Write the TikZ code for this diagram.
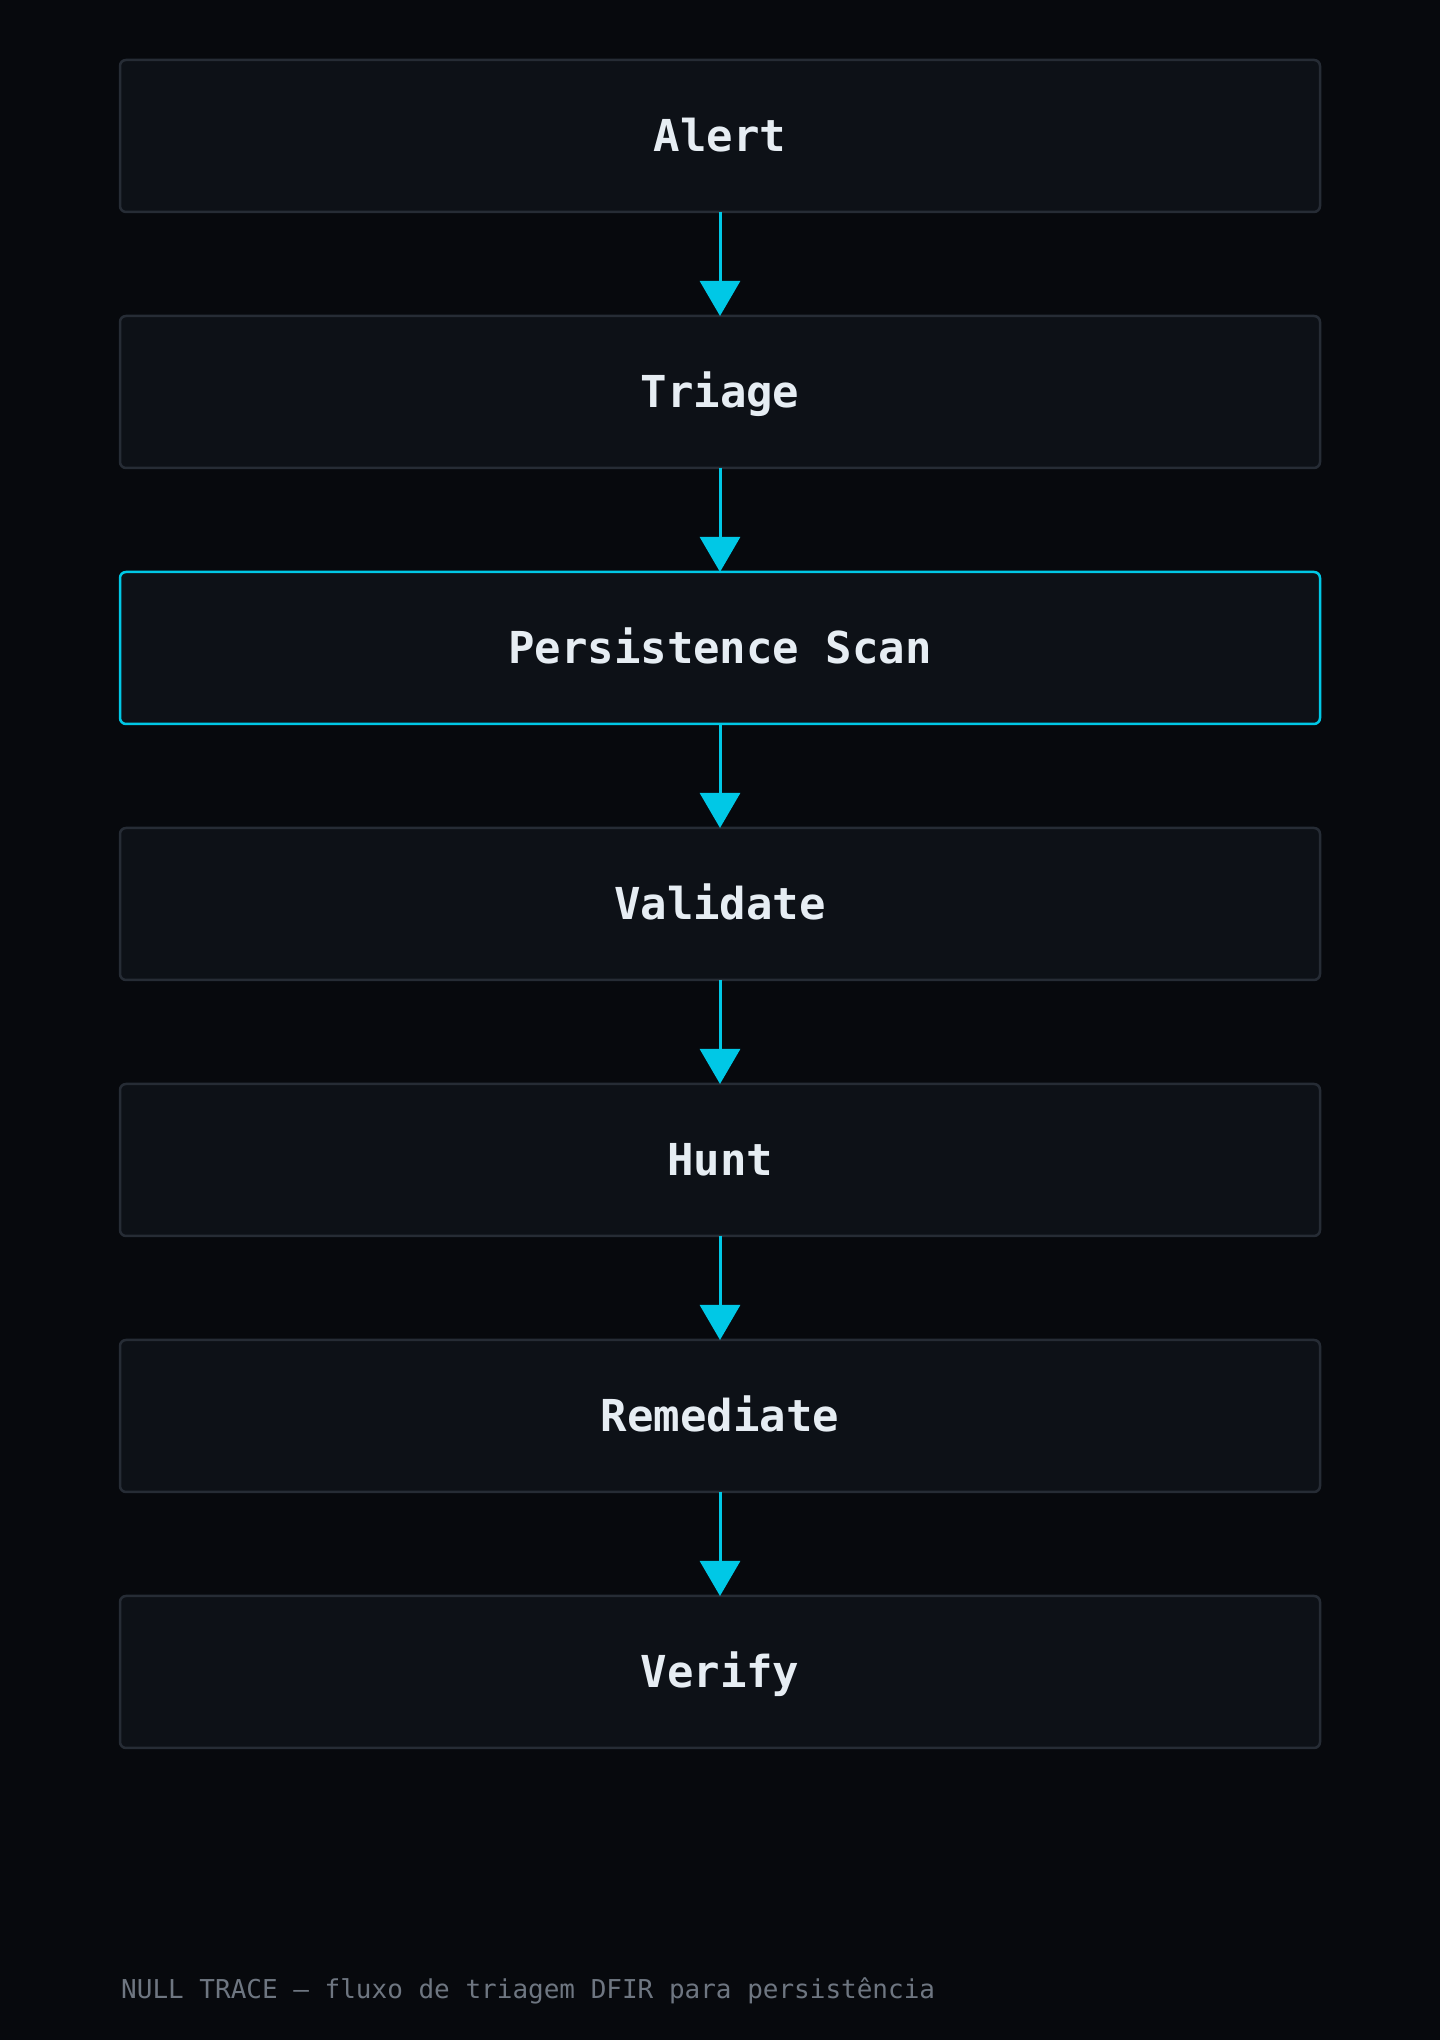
\documentclass[tikz,border=0pt]{standalone}
\usepackage{fontspec}
\setmonofont{DejaVu Sans Mono}
\usetikzlibrary{arrows.meta}
\definecolor{bgc}{HTML}{07090D}
\definecolor{boxfill}{HTML}{0D1117}
\definecolor{boxline}{HTML}{262C35}
\definecolor{cyanc}{HTML}{00C8E6}
\definecolor{labelc}{HTML}{E6EDF3}
\definecolor{footc}{HTML}{6E7681}
\tikzset{
  stepbox/.style={draw=boxline, line width=2.5pt, fill=boxfill, rounded corners=6pt,
    minimum width=1200pt, minimum height=152pt, inner sep=0pt, outer sep=0pt,
    text height=32pt, text depth=0pt,
    text=labelc, font=\ttfamily\bfseries\fontsize{44}{52}\selectfont},
  hilite/.style={draw=cyanc},
  flowarrow/.style={draw=cyanc, line width=3pt, -{Triangle[width=40pt,length=35pt]}},
  foottext/.style={text=footc, font=\ttfamily\fontsize{26}{30}\selectfont, inner sep=0pt, anchor=base west}
}
\begin{document}
\begin{tikzpicture}[x=1pt,y=1pt]
\fill[bgc] (0,0) rectangle (1440,2040);
\useasboundingbox (0,0) rectangle (1440,2040);
\node[stepbox] (alert) at (720,1904) {Alert};
\node[stepbox] (triage) at (720,1648) {Triage};
\node[stepbox,hilite] (scan) at (720,1392) {Persistence Scan};
\node[stepbox] (validate) at (720,1136) {Validate};
\node[stepbox] (hunt) at (720,880) {Hunt};
\node[stepbox] (remediate) at (720,624) {Remediate};
\node[stepbox] (verify) at (720,368) {Verify};
\draw[flowarrow] (alert.south) -- (triage.north);
\draw[flowarrow] (triage.south) -- (scan.north);
\draw[flowarrow] (scan.south) -- (validate.north);
\draw[flowarrow] (validate.south) -- (hunt.north);
\draw[flowarrow] (hunt.south) -- (remediate.north);
\draw[flowarrow] (remediate.south) -- (verify.north);
\node[foottext] (footer) at (121,41) {NULL TRACE — fluxo de triagem DFIR para persistência};
\end{tikzpicture}
\end{document}
